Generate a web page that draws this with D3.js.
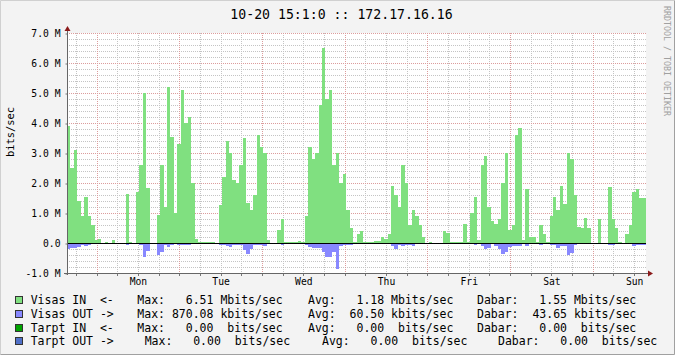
<!DOCTYPE html>
<html>
<head>
<meta charset="utf-8">
<script src="https://cdn.jsdelivr.net/npm/d3@7"></script>
<style>
body { margin: 0; background: #f3f3f3; }
text { font-family: "DejaVu Sans Mono", monospace; white-space: pre; }
</style>
</head>
<body>
<svg id="chart" width="675" height="355"></svg>
<script>
// hourly samples (Mbits/sec), first one at Sun 15:26
var startTime = Date.UTC(2013, 9, 13, 15, 26);
var hour = 3600 * 1000;

var visasIn = [
  3.9, 2.5, 3.1, 1.4, 0.9, 1.55, 0.9, 0.6, 0.1, 0.15, 0, 0.03, 0, 0.1, 0, 0, 0, 1.63, 0.03, 0,
  1.69, 2.6, 5.0, 1.84, 0, 0, 0.93, 2.6, 1.2, 5.2, 3.53, 1.0, 3.3, 5.1, 4.0, 4.2, 2.0, 0.12, 0.03, 0.03,
  0.03, 0.03, 0.03, 0, 1.27, 2.2, 3.4, 3.0, 2.1, 2.0, 2.6, 3.5, 1.35, 1.1, 1.6, 3.6, 3.2, 3.0, 0.1, 0,
  0, 0.45, 0.8, 0.03, 0.03, 0.03, 0.03, 0.07, 0.03, 0.9, 3.2, 2.8, 3.0, 4.6, 6.51, 4.8, 5.1, 2.6, 3.0, 2.0,
  2.3, 1.1, 0.5, 0.02, 0.3, 0.4, 0.03, 0.03, 0.03, 0.08, 0.08, 0.2, 0.15, 0.3, 1.9, 1.6, 1.2, 2.6, 2.0, 0.6,
  1.1, 0.9, 0.6, 0.2, 0, 0.03, 0, 0, 0, 0.4, 0.32, 0.02, 0.03, 0.03, 0.03, 0.65, 0.02, 1.0, 1.55, 0.1,
  2.6, 2.9, 1.2, 0.75, 0.62, 0.8, 2.0, 3.0, 0.45, 0.6, 3.6, 3.85, 0.1, 1.8, 0.2, 0.2, 0.05, 0.6, 0.3, 0.05,
  0.9, 1.55, 1.1, 1.9, 1.3, 3.0, 2.8, 1.6, 0.55, 0.5, 0.85, 0.5, 0, 0, 0.8, 0, 0, 1.88, 0.8, 0.5,
  0.03, 0, 0.3, 0.6, 1.7, 1.8, 1.5, 1.5
];

var visasOut = [
  0.2, 0.17, 0.18, 0.12, 0.08, 0.1, 0.07, 0, 0, 0, 0, 0, 0, 0, 0, 0, 0, 0.05, 0, 0,
  0.04, 0.06, 0.45, 0.25, 0, 0, 0.4, 0.3, 0.05, 0.14, 0.08, 0.03, 0.06, 0.07, 0.05, 0.06, 0.04, 0, 0, 0,
  0, 0, 0, 0, 0.05, 0.07, 0.1, 0.12, 0.07, 0.07, 0.08, 0.24, 0.36, 0.2, 0.05, 0.07, 0.05, 0.1, 0.03, 0,
  0, 0, 0.05, 0, 0, 0, 0, 0, 0, 0.05, 0.12, 0.17, 0.18, 0.18, 0.3, 0.45, 0.48, 0.3, 0.87, 0.09,
  0.07, 0.06, 0.05, 0.02, 0, 0, 0, 0, 0, 0, 0, 0, 0, 0, 0.1, 0.2, 0.07, 0.1, 0.08, 0.08,
  0.1, 0.04, 0, 0, 0, 0, 0, 0, 0, 0, 0, 0, 0, 0, 0, 0.03, 0, 0.03, 0.05, 0.02,
  0.1, 0.2, 0.15, 0.04, 0.1, 0.2, 0.35, 0.3, 0.12, 0.1, 0.1, 0.1, 0.03, 0.09, 0, 0, 0, 0.05, 0.03, 0,
  0.05, 0.06, 0.15, 0.1, 0.1, 0.4, 0.33, 0.05, 0.04, 0.02, 0.04, 0, 0, 0, 0, 0, 0, 0.08, 0.05, 0.03,
  0, 0, 0, 0, 0.09, 0.08, 0.05, 0.05
];

var dayLabels = ["Mon", "Tue", "Wed", "Thu", "Fri", "Sat", "Sun"];
var yTickValues = [-1, 0, 1, 2, 3, 4, 5, 6, 7];
var yTickLabels = ["-1.0 M", "0.0", "1.0 M", "2.0 M", "3.0 M", "4.0 M", "5.0 M", "6.0 M", "7.0 M"];

var legendNames = ["Visas IN  <-", "Visas OUT ->", "Tarpt IN  <-", "Tarpt OUT ->"];
var legendColors = ["#80e080", "#8888ff", "#00a400", "#5070c8"];
var legendMax = ["  6.51 Mbits/sec", "870.08 kbits/sec", "  0.00  bits/sec", "  0.00  bits/sec"];
var legendAvg = ["  1.18 Mbits/sec", " 60.50 kbits/sec", "  0.00  bits/sec", "  0.00  bits/sec"];
var legendNow = ["  1.55 Mbits/sec", " 43.65 kbits/sec", "  0.00  bits/sec", "  0.00  bits/sec"];

var svg = d3.select('#chart');
var W = 675, H = 355;
var plotLeft = 67, plotRight = 646, plotTop = 33, plotBottom = 273;

// frame
svg.append('rect').attr('width', W).attr('height', H).attr('fill', '#f3f3f3');
svg.append('path').attr('d', 'M0.5,' + (H - 0.5) + 'V0.5H' + (W - 0.5))
  .attr('fill', 'none').attr('stroke', '#d0d0d0');
svg.append('path').attr('d', 'M0.5,' + (H - 0.5) + 'H' + (W - 0.5) + 'V0.5')
  .attr('fill', 'none').attr('stroke', '#a0a0a0');

var x = d3.scaleUtc().domain([startTime, startTime + 168 * hour]).range([plotLeft, plotRight]);
var y = d3.scaleLinear().domain([-1, 7]).range([plotBottom, plotTop]);

svg.append('rect').attr('x', plotLeft).attr('y', plotTop)
  .attr('width', plotRight - plotLeft).attr('height', plotBottom - plotTop).attr('fill', '#ffffff');

// grid
var grid = svg.append('g').attr('shape-rendering', 'crispEdges');
var hMinor = d3.range(-5, 36).filter(function(k) { return k % 5 != 0; }).map(function(k) { return k / 5; });
var vMinor = d3.utcHour.every(6).range(new Date(startTime), new Date(startTime + 168 * hour))
  .filter(function(d) { return d.getUTCHours() != 0; });
var vMajor = d3.utcDay.range(new Date(startTime), new Date(startTime + 168 * hour));

grid.selectAll('.hmin').data(hMinor).enter().append('line')
  .attr('x1', plotLeft).attr('x2', plotRight)
  .attr('y1', function(d) { return Math.round(y(d)) + 0.5; })
  .attr('y2', function(d) { return Math.round(y(d)) + 0.5; })
  .attr('stroke', '#c4c4c4').attr('stroke-dasharray', '1,1');
grid.selectAll('.vmin').data(vMinor).enter().append('line')
  .attr('y1', plotTop).attr('y2', plotBottom)
  .attr('x1', function(d) { return Math.round(x(d)) + 0.5; })
  .attr('x2', function(d) { return Math.round(x(d)) + 0.5; })
  .attr('stroke', '#c4c4c4').attr('stroke-dasharray', '1,1');
grid.selectAll('.hmaj').data(yTickValues).enter().append('line')
  .attr('x1', plotLeft).attr('x2', plotRight)
  .attr('y1', function(d) { return Math.round(y(d)) + 0.5; })
  .attr('y2', function(d) { return Math.round(y(d)) + 0.5; })
  .attr('stroke', '#dc9c9c').attr('stroke-dasharray', '1,1');
grid.selectAll('.vmaj').data(vMajor).enter().append('line')
  .attr('y1', plotTop).attr('y2', plotBottom)
  .attr('x1', function(d) { return Math.round(x(d)) + 0.5; })
  .attr('x2', function(d) { return Math.round(x(d)) + 0.5; })
  .attr('stroke', '#dc9c9c').attr('stroke-dasharray', '1,1');

// areas
var bars = svg.append('g').attr('shape-rendering', 'crispEdges');
bars.selectAll('.in').data(visasIn).enter().append('rect')
  .attr('x', function(d, i) { return x(startTime + i * hour); })
  .attr('width', function(d, i) { return x(startTime + (i + 1) * hour) - x(startTime + i * hour); })
  .attr('y', function(d) { return y(d); })
  .attr('height', function(d) { return y(0) - y(d); })
  .attr('fill', '#80e080');
bars.selectAll('.out').data(visasOut).enter().append('rect')
  .attr('x', function(d, i) { return x(startTime + i * hour); })
  .attr('width', function(d, i) { return x(startTime + (i + 1) * hour) - x(startTime + i * hour); })
  .attr('y', y(0))
  .attr('height', function(d) { return y(-d) - y(0); })
  .attr('fill', '#8888ff');

// zero line
svg.append('line').attr('x1', plotLeft).attr('x2', plotRight)
  .attr('y1', Math.round(y(0)) + 0.5).attr('y2', Math.round(y(0)) + 0.5)
  .attr('stroke', '#000').attr('shape-rendering', 'crispEdges');

// axes
var yAxis = d3.axisLeft(y).tickValues(yTickValues)
  .tickFormat(function(d, i) { return yTickLabels[i]; })
  .tickSize(2).tickPadding(5);
var gy = svg.append('g').attr('transform', 'translate(' + (plotLeft + 0.5) + ',0.5)').call(yAxis);
gy.select('.domain').remove();
gy.selectAll('line').attr('stroke', '#777');
gy.selectAll('text').attr('font-size', '9.7px').attr('fill', '#000')
  .attr('font-family', '"DejaVu Sans Mono", monospace');

var noons = vMajor.map(function(d) { return new Date(+d + 12 * hour); });
var xAxis = d3.axisBottom(x).tickValues(noons)
  .tickFormat(function(d, i) { return dayLabels[i]; })
  .tickSize(0).tickPadding(5);
var gx = svg.append('g').attr('transform', 'translate(0,' + plotBottom + ')').call(xAxis);
gx.select('.domain').remove();
gx.selectAll('text').attr('font-size', '9.7px').attr('fill', '#000')
  .attr('font-family', '"DejaVu Sans Mono", monospace');

var ticksX = svg.append('g').attr('shape-rendering', 'crispEdges');
ticksX.selectAll('line').data(vMinor.concat(vMajor)).enter().append('line')
  .attr('x1', function(d) { return Math.round(x(d)) + 0.5; })
  .attr('x2', function(d) { return Math.round(x(d)) + 0.5; })
  .attr('y1', plotBottom).attr('y2', plotBottom + 3)
  .attr('stroke', '#777');

svg.append('line').attr('x1', plotLeft + 0.5).attr('x2', plotLeft + 0.5)
  .attr('y1', plotBottom + 2).attr('y2', plotTop - 4)
  .attr('stroke', '#666').attr('shape-rendering', 'crispEdges');
svg.append('line').attr('x1', plotLeft - 3).attr('x2', plotRight + 3)
  .attr('y1', plotBottom + 0.5).attr('y2', plotBottom + 0.5)
  .attr('stroke', '#666').attr('shape-rendering', 'crispEdges');
svg.append('path').attr('d', 'M' + (plotLeft - 2.5) + ',' + (plotTop - 2) + 'L' + (plotLeft + 0.5) + ',' + (plotTop - 7) + 'L' + (plotLeft + 3.5) + ',' + (plotTop - 2) + 'Z')
  .attr('fill', '#8b1a1a');
svg.append('path').attr('d', 'M' + (plotRight + 2) + ',' + (plotBottom - 2.5) + 'L' + (plotRight + 7) + ',' + (plotBottom + 0.5) + 'L' + (plotRight + 2) + ',' + (plotBottom + 3.5) + 'Z')
  .attr('fill', '#8b1a1a');

// titles
svg.append('text').attr('x', 341.5).attr('y', 18.5).attr('text-anchor', 'middle')
  .attr('font-size', '13.2px').attr('fill', '#000')
  .text('10-20 15:1:0 :: 172.17.16.16');
svg.append('text').attr('transform', 'translate(13.5,132) rotate(-90)')
  .attr('text-anchor', 'middle').attr('font-size', '10.4px').attr('fill', '#000')
  .text('bits/sec');
svg.append('text').attr('transform', 'translate(664,6) rotate(90)')
  .attr('font-size', '8.3px').attr('fill', '#a0a0a0')
  .text('RRDTOOL / TOBI OETIKER');

// legend
var colX = [[137.3, 308, 477], [137.3, 308, 477], [137.3, 308, 477], [144.7, 322, 498]];
var legend = svg.append('g').attr('font-size', '11.5px').attr('fill', '#000');
legendNames.forEach(function(name, i) {
  var cy = 299.7 + i * 13.9;
  legend.append('rect').attr('x', 15.5).attr('y', Math.round(cy - 4) + 0.5)
    .attr('width', 7).attr('height', 7)
    .attr('fill', legendColors[i]).attr('stroke', '#333');
  legend.append('text').attr('x', 30.7).attr('y', cy + 4).text(name);
  legend.append('text').attr('x', colX[i][0]).attr('y', cy + 4).text('Max: ' + legendMax[i]);
  legend.append('text').attr('x', colX[i][1]).attr('y', cy + 4).text('Avg: ' + legendAvg[i]);
  legend.append('text').attr('x', colX[i][2]).attr('y', cy + 4).text('Dabar: ' + legendNow[i]);
});
</script>
</body>
</html>
